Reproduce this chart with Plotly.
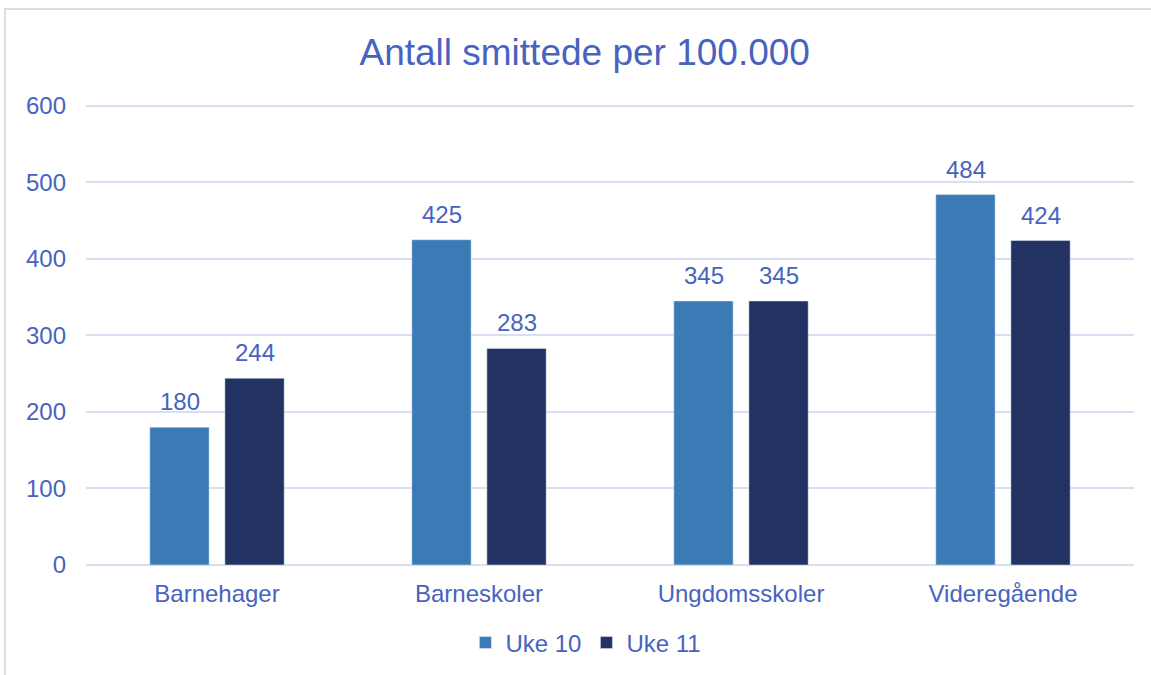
import plotly.graph_objects as go

categories = ["Barnehager", "Barneskoler", "Ungdomsskoler", "Videregående"]
uke10 = [180, 425, 345, 484]
uke11 = [244, 283, 345, 424]
series_names = ["Uke 10", "Uke 11"]
y_ticks = [0, 100, 200, 300, 400, 500, 600]

TXT = "#4763BF"
GRID = "#D9DFF0"
C10 = "#3C7AB6"
C11 = "#223263"
FONT = "Liberation Sans, Arial, sans-serif"

fig = go.Figure()
fig.add_trace(go.Bar(x=categories, y=uke10, name=series_names[0], marker_color=C10))
fig.add_trace(go.Bar(x=categories, y=uke11, name=series_names[1], marker_color=C11))

annotations = []
for vals, shift in ((uke10, -37.5), (uke11, 37.5)):
    for c, v in zip(categories, vals):
        annotations.append(dict(x=c, y=v, text=str(v), showarrow=False, xshift=shift,
                                yanchor="bottom", yshift=10,
                                font=dict(size=24, color=TXT, family=FONT)))

fig.update_layout(
    width=1151, height=675,
    margin=dict(l=86, r=17, t=102, b=110, autoexpand=False),
    paper_bgcolor="white", plot_bgcolor="white",
    font=dict(family=FONT, color=TXT, size=24),
    title=dict(text="Antall smittede per 100.000", x=0.508, xanchor="center",
               y=1 - 52 / 675, yanchor="middle", font=dict(size=37, color=TXT, family=FONT)),
    barmode="group", bargap=0.427, bargroupgap=0.21,
    showlegend=True,
    legend=dict(orientation="h", x=0.477, xanchor="center", yref="container",
                y=1 - 643 / 675, yanchor="middle",
                font=dict(size=24, color=TXT), itemwidth=30, traceorder="normal"),
    annotations=annotations,
    xaxis=dict(showgrid=False, showline=False, ticks="", tickfont=dict(size=24, color=TXT),
               ticklabelstandoff=12, automargin=False),
    yaxis=dict(range=[0, 605], tickvals=y_ticks, showgrid=True, gridcolor=GRID, gridwidth=2,
               zeroline=True, zerolinecolor=GRID, zerolinewidth=2, showline=False, ticks="",
               tickfont=dict(size=24, color=TXT), ticklabelstandoff=19, automargin=False),
    shapes=[dict(type="rect", xref="paper", yref="paper", x0=(5 - 86) / 1048, x1=1.03,
                 y0=-0.3, y1=(565 - 9) / 463, line=dict(color="#D9DDEA", width=2), layer="below")],
)

fig.write_html("out.html", config={"displayModeBar": False},
               post_script="document.body.style.margin='0';")
